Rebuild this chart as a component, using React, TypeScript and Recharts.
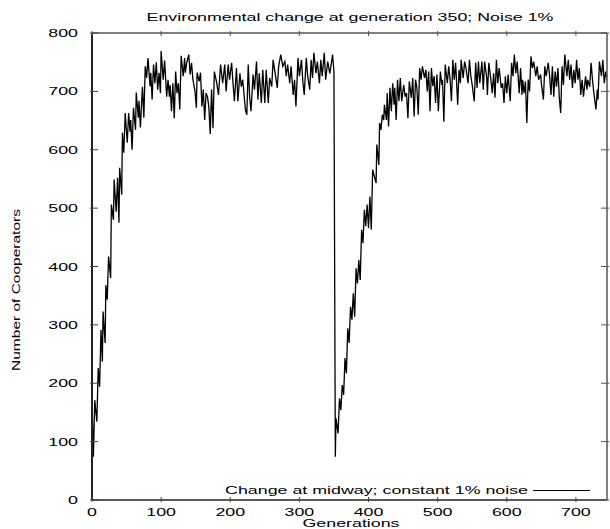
import { Line, LineChart, XAxis, YAxis } from "recharts";

const generations = [
  0, 2, 4, 7, 9, 11, 13, 15, 16, 19,
  20, 22, 24, 27, 28, 31, 32, 35, 37, 39,
  40, 43, 44, 46, 48, 51, 53, 55, 56, 58,
  60, 63, 64, 67, 68, 70, 73, 75, 77, 79,
  81, 84, 85, 87, 89, 91, 93, 95, 97, 99,
  100, 103, 105, 108, 110, 112, 113, 115, 117, 119,
  121, 123, 125, 127, 129, 132, 134, 135, 137, 140,
  142, 144, 146, 149, 151, 152, 155, 157, 159, 161,
  163, 165, 167, 169, 171, 173, 175, 177, 180, 183,
  186, 189, 192, 194, 197, 199, 202, 204, 206, 209,
  211, 214, 216, 218, 222, 224, 226, 228, 230, 233,
  235, 238, 240, 242, 245, 247, 250, 252, 255, 257,
  260, 262, 265, 268, 270, 273, 276, 279, 281, 283,
  286, 288, 291, 293, 295, 298, 300, 303, 305, 307,
  310, 312, 315, 317, 319, 321, 324, 326, 329, 331,
  333, 336, 338, 341, 344, 346, 348, 350,
  352, 353, 356, 358, 360, 362, 364, 366, 368, 370,
  372, 374, 376, 378, 380, 382, 384, 386, 388, 390,
  392, 394, 396, 398, 400, 402, 404, 406, 411, 412,
  415, 416, 418, 420, 422, 423, 426, 427, 429, 431,
  433, 435, 437, 438, 440, 442, 444, 446, 448, 451,
  453, 455, 457, 459, 462, 464, 466, 468, 470, 472,
  474, 476, 478, 481, 483, 485, 487, 489, 491, 493,
  495, 497, 499, 501, 504, 506, 507, 509, 511, 514,
  516, 518, 520, 522, 524, 526, 529, 531, 533, 534,
  537, 539, 541, 544, 546, 548, 550, 553, 555, 557,
  559, 561, 564, 566, 568, 571, 572, 574, 577, 579,
  581, 583, 585, 587, 589, 592, 594, 596, 598, 600,
  602, 605, 607, 609, 611, 613, 615, 618, 620, 622,
  623, 625, 627, 629, 631, 633, 635, 637, 639, 642,
  644, 646, 649, 650, 653, 655, 657, 660, 662, 664,
  666, 668, 670, 672, 674, 676, 678, 680, 682, 684,
  687, 689, 691, 693, 695, 697, 699, 701, 703, 705,
  707, 709, 711, 714, 716, 717, 720, 722, 724, 726,
  729, 731, 732, 734, 737, 739, 741, 743, 745,
];

const cooperators = [
  170, 74, 171, 134, 226, 194, 291, 237, 323, 269,
  368, 343, 417, 380, 506, 480, 549, 494, 552, 475,
  569, 523, 629, 595, 663, 612, 663, 631, 651, 600,
  672, 634, 698, 655, 684, 638, 708, 655, 743, 723,
  757, 709, 732, 686, 746, 714, 750, 703, 732, 697,
  769, 720, 753, 691, 720, 691, 711, 666, 714, 654,
  734, 697, 714, 669, 761, 726, 757, 732, 749, 763,
  729, 749, 720, 700, 672, 732, 717, 732, 674, 703,
  651, 697, 691, 674, 627, 703, 637, 734, 717, 694,
  746, 714, 746, 700, 746, 720, 749, 714, 683, 740,
  683, 731, 708, 720, 668, 660, 746, 691, 666, 729,
  703, 751, 686, 731, 680, 737, 680, 737, 680, 723,
  708, 754, 731, 706, 743, 763, 743, 751, 726, 746,
  714, 743, 694, 720, 674, 757, 726, 754, 717, 694,
  757, 726, 703, 754, 723, 766, 731, 751, 714, 754,
  726, 766, 720, 751, 731, 746, 763, 734,
  74, 140, 114, 174, 154, 197, 180, 243, 217, 294,
  269, 331, 309, 354, 314, 397, 371, 411, 377, 463,
  440, 497, 469, 506, 466, 520, 463, 566, 543, 609,
  574, 646, 634, 660, 651, 677, 651, 697, 640, 706,
  666, 714, 677, 706, 651, 720, 683, 723, 683, 711,
  691, 697, 654, 717, 689, 723, 657, 720, 706, 660,
  740, 720, 743, 723, 737, 700, 734, 666, 740, 709,
  726, 680, 729, 666, 734, 711, 720, 648, 746, 714,
  743, 720, 683, 754, 720, 749, 677, 737, 714, 754,
  723, 751, 740, 714, 754, 726, 711, 683, 749, 706,
  751, 714, 751, 703, 751, 723, 694, 749, 720, 697,
  731, 689, 754, 714, 740, 706, 714, 680, 726, 697,
  729, 683, 749, 726, 763, 731, 751, 697, 740, 694,
  720, 697, 717, 646, 720, 700, 760, 740, 751, 726,
  743, 720, 729, 714, 686, 743, 726, 749, 726, 694,
  743, 691, 734, 708, 740, 689, 663, 743, 711, 763,
  726, 754, 720, 746, 706, 737, 714, 754, 720, 740,
  694, 720, 691, 726, 703, 720, 708, 749, 720, 697,
  669, 703, 686, 751, 726, 754, 714, 734, 720,
];

const xTicks = [0, 100, 200, 300, 400, 500, 600, 700];
const yTicks = [0, 100, 200, 300, 400, 500, 600, 700, 800];

const data = generations.map((gen, i) => ({ gen, count: cooperators[i] }));

const FONT = "'Liberation Sans', Arial, Helvetica, sans-serif";
const SX = 1.62; // the picture is stretched sideways

function Stretched({ x, y, anchor, children }: any) {
  return (
    <text
      transform={`translate(${x},${y}) scale(${SX},1)`}
      textAnchor={anchor}
      fontFamily={FONT}
      fontSize={11}
      fill="#000"
    >
      {children}
    </text>
  );
}

const BottomTick = ({ x, y, payload }: any) => (
  <g>
    <line x1={x} y1={y} x2={x} y2={y - 5} stroke="#444" />
    <Stretched x={x} y={y + 14} anchor="middle">
      {payload.value}
    </Stretched>
  </g>
);

const TopTick = ({ x, y }: any) => <line x1={x} y1={y} x2={x} y2={y + 5} stroke="#555" />;

const LeftTick = ({ x, y, payload }: any) => (
  <g>
    <line x1={x} y1={y} x2={x + 8} y2={y} stroke="#444" />
    <Stretched x={x - 12} y={y + 4} anchor="end">
      {payload.value}
    </Stretched>
  </g>
);

const RightTick = ({ x, y }: any) => <line x1={x} y1={y} x2={x - 8} y2={y} stroke="#555" />;

export default function App() {
  return (
    <div style={{ position: "absolute", left: 0, top: 0 }}>
      <LineChart width={610} height={529} data={data} margin={{ top: 32, right: 0, bottom: 0, left: 0 }}>
        <XAxis
          xAxisId="top"
          orientation="top"
          dataKey="gen"
          type="number"
          domain={[0, 745]}
          ticks={xTicks}
          interval={0}
          height={1}
          tickSize={0}
          tickLine={false}
          tick={<TopTick />}
          axisLine={{ stroke: "#555", strokeWidth: 1.5 }}
          allowDataOverflow
        />
        <XAxis
          dataKey="gen"
          type="number"
          domain={[0, 745]}
          ticks={xTicks}
          interval={0}
          height={29}
          tickSize={0}
          tickLine={false}
          tick={<BottomTick />}
          axisLine={{ stroke: "#222", strokeWidth: 1.5 }}
          allowDataOverflow
        />
        <YAxis
          domain={[0, 800]}
          ticks={yTicks}
          interval={0}
          width={92}
          tickSize={0}
          tickLine={false}
          tick={<LeftTick />}
          axisLine={{ stroke: "#222", strokeWidth: 2 }}
          allowDataOverflow
        />
        <YAxis
          yAxisId="right"
          orientation="right"
          domain={[0, 800]}
          ticks={yTicks}
          interval={0}
          width={3}
          tickSize={0}
          tickLine={false}
          tick={<RightTick />}
          axisLine={{ stroke: "#555", strokeWidth: 1.5 }}
          allowDataOverflow
        />
        <Line
          dataKey="count"
          type="linear"
          stroke="#000"
          strokeWidth={1.3}
          dot={false}
          isAnimationActive={false}
        />
        <Stretched x={350} y={21} anchor="middle">
          Environmental change at generation 350; Noise 1%
        </Stretched>
        <Stretched x={351} y={527} anchor="middle">
          Generations
        </Stretched>
        <text
          transform="translate(20,290) rotate(-90) scale(1,0.65)"
          textAnchor="middle"
          fontFamily={FONT}
          fontSize={15.5}
          fill="#000"
        >
          Number of Cooperators
        </text>
        <Stretched x={528} y={494} anchor="end">
          Change at midway; constant 1% noise
        </Stretched>
        <line x1={533} y1={490.5} x2={590} y2={490.5} stroke="#000" strokeWidth={1} />
      </LineChart>
    </div>
  );
}
